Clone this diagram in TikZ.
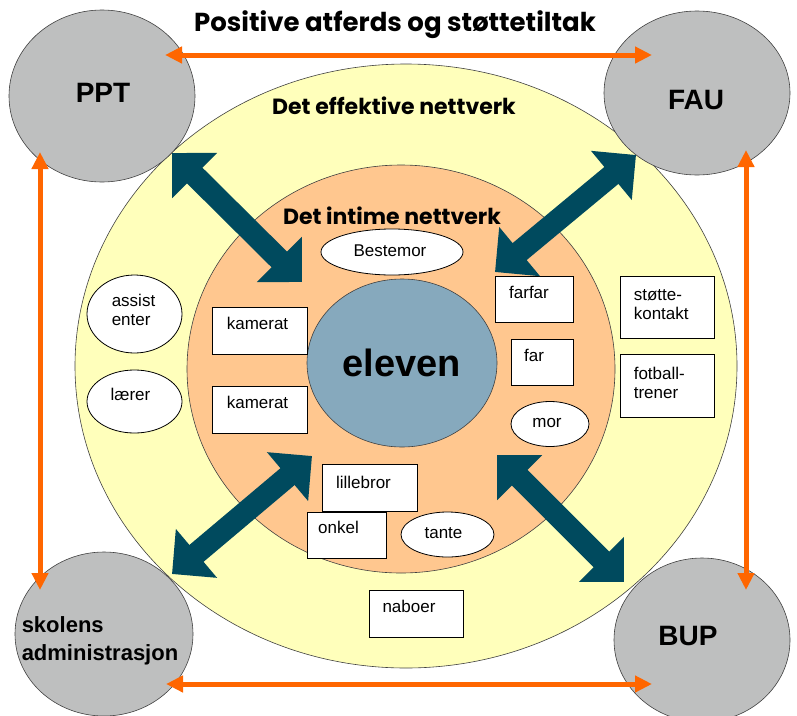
\documentclass[tikz,border=0pt]{standalone}
\usepackage{fontspec}
\setmainfont{Liberation Sans}
\newfontfamily\comic{Poppins}
\usetikzlibrary{shapes.geometric,arrows.meta,calc}
\definecolor{yel}{RGB}{255,255,187}
\definecolor{ora}{RGB}{255,199,143}
\definecolor{blu}{RGB}{134,169,189}
\definecolor{gra}{RGB}{190,191,191}
\definecolor{darkteal}{RGB}{0,74,94}
\definecolor{arr}{RGB}{255,102,0}
\tikzset{
  ring/.style={ellipse, draw=black!75, line width=0.6pt, inner sep=0pt},
  agency/.style={ellipse, draw=black!75, fill=gra, line width=0.6pt, inner sep=0pt},
  aglbl/.style={font=\bfseries\fontsize{28}{30}\selectfont, inner sep=0pt},
  box/.style={rectangle, draw=black, fill=white, line width=0.8pt, inner sep=0pt},
  oval/.style={ellipse, draw=black, fill=white, line width=0.8pt, inner sep=0pt},
  lbl/.style={font=\fontsize{17}{19}\selectfont, inner sep=0pt, align=left},
  title/.style={font=\comic\bfseries\fontsize{26}{28}\selectfont, inner sep=0pt},
  subtitle/.style={font=\comic\bfseries\fontsize{22}{24}\selectfont, inner sep=0pt},
  oarrow/.style={draw=arr, line width=5pt, {Triangle[width=16pt,length=17pt]}-{Triangle[width=16pt,length=17pt]}},
  barrow/.style={draw=darkteal, line width=22pt, {Triangle[width=62pt,length=32pt]}-{Triangle[width=62pt,length=32pt]}}
}
\begin{document}
\begin{tikzpicture}[x=1pt,y=-1pt]
\useasboundingbox (0,0) rectangle (797,715);
% rings
\node[ring, fill=yel, minimum width=662pt, minimum height=604pt] (outer) at (406,366) {};
\node[ring, fill=ora, minimum width=428pt, minimum height=408pt] (inner) at (401,369) {};
\node[ring, fill=blu, minimum width=190pt, minimum height=168pt,
      label={[font=\bfseries\fontsize{38}{40}\selectfont, inner sep=0pt]center:eleven}] (eleven) at (402,363) {};
% agencies
\node[agency, minimum width=186pt, minimum height=172pt,
      label={[aglbl, xshift=1pt, yshift=3pt]center:PPT}] (PPT) at (102,96) {};
\node[agency, minimum width=186pt, minimum height=164pt,
      label={[aglbl, xshift=-1pt, yshift=-7pt]center:FAU}] (FAU) at (697,93) {};
\node[agency, minimum width=178pt, minimum height=164pt,
      label={[aglbl, font=\bfseries\fontsize{22}{28}\selectfont, align=left, xshift=-4pt, yshift=-7pt]center:skolens\\administrasjon}] (SKOLE) at (104,634) {};
\node[agency, minimum width=176pt, minimum height=164pt,
      label={[aglbl, xshift=-14pt, yshift=4pt]center:BUP}] (BUP) at (702,640) {};
% titles
\node[title] (t1) at (395,25) {Positive atferds og støttetiltak};
\node[subtitle] (t2) at (394,106) {Det effektive nettverk};
\node[subtitle] (t3) at (392,216) {Det intime nettverk};
% inner members
\node[oval, minimum width=142pt, minimum height=46pt,
      label={[lbl, xshift=-2pt, yshift=1pt]center:Bestemor}] (bestemor) at (392,252) {};
\node[box, minimum width=78pt, minimum height=46pt,
      label={[lbl, xshift=-5pt, yshift=7pt]center:farfar}] (farfar) at (534,299) {};
\node[box, minimum width=62pt, minimum height=46pt,
      label={[lbl, xshift=-8pt, yshift=7pt]center:far}] (far) at (542,362) {};
\node[oval, minimum width=78pt, minimum height=45pt,
      label={[lbl, xshift=-3pt, yshift=1pt]center:mor}] (mor) at (550,424) {};
\node[box, minimum width=95pt, minimum height=47pt,
      label={[lbl, xshift=-2pt, yshift=7pt]center:kamerat}] (kam1) at (259.5,330.5) {};
\node[box, minimum width=95pt, minimum height=47pt,
      label={[lbl, xshift=-2pt, yshift=7pt]center:kamerat}] (kam2) at (259.5,409.5) {};
\node[box, minimum width=95pt, minimum height=47pt,
      label={[lbl, xshift=-6pt, yshift=5pt]center:lillebror}] (lillebror) at (369.5,487.5) {};
\node[box, minimum width=79pt, minimum height=46pt,
      label={[lbl, xshift=-8pt, yshift=8pt]center:onkel}] (onkel) at (346.5,535) {};
\node[oval, minimum width=93pt, minimum height=45pt,
      label={[lbl, xshift=-4pt, yshift=1pt]center:tante}] (tante) at (447.5,534.5) {};
% outer members
\node[box, minimum width=94pt, minimum height=47pt,
      label={[lbl, xshift=-7pt, yshift=7pt]center:naboer}] (naboer) at (416,613.5) {};
\node[box, minimum width=94pt, minimum height=62pt,
      label={[lbl, anchor=north west]north west:\hspace*{14pt}\parbox[t]{70pt}{\vspace*{14pt}støtte-\\kontakt}}] (stotte) at (667,307) {};
\node[box, minimum width=94pt, minimum height=63pt,
      label={[lbl, anchor=north west]north west:\hspace*{14pt}\parbox[t]{70pt}{\vspace*{13pt}fotball-\\trener}}] (fotball) at (667,385.5) {};
\node[oval, minimum width=95pt, minimum height=78pt,
      label={[lbl, xshift=-1pt, yshift=4pt]center:assist\\enter}] (assist) at (134.5,314) {};
\node[oval, minimum width=95pt, minimum height=63pt,
      label={[lbl, xshift=-4pt, yshift=7pt]center:lærer}] (laerer) at (134.5,401.5) {};
% dark double arrows between rings and centre
\coordinate (nwA) at (172,153);  \coordinate (nwB) at (302,282);
\coordinate (neA) at (636,155);  \coordinate (neB) at (495,272);
\coordinate (swA) at (172,574);  \coordinate (swB) at (312,456);
\coordinate (seA) at (624,582);  \coordinate (seB) at (497,455);
\draw[barrow] (nwA) -- (nwB);
\draw[barrow] (neA) -- (neB);
\draw[barrow] (swA) -- (swB);
\draw[barrow] (seA) -- (seB);
% orange arrows between agencies
\draw[oarrow] ($(PPT.center)+(63,-41)$) -- ($(FAU.center)+(-45,-38)$);
\draw[oarrow] ($(PPT.center)+(-62,56)$) -- ($(SKOLE.center)+(-64,-44)$);
\draw[oarrow] ($(FAU.center)+(49,57)$) -- ($(BUP.center)+(44,-50)$);
\draw[oarrow] ($(SKOLE.center)+(62,50)$) -- ($(BUP.center)+(-50,44)$);
\end{tikzpicture}
\end{document}
